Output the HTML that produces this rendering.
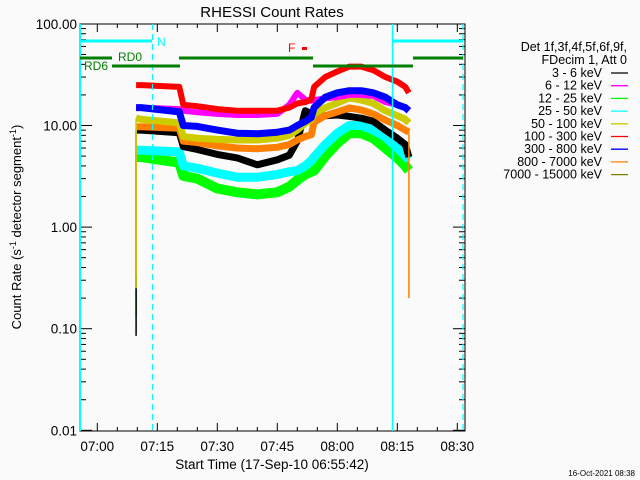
<!DOCTYPE html>
<html><head><meta charset="utf-8"><style>
html,body{margin:0;padding:0;background:#fafafa;}
svg{display:block;font-family:"Liberation Sans",sans-serif;}
</style></head><body>
<svg id="chart" width="640" height="480" viewBox="0 0 640 480">
<rect x="0" y="0" width="640" height="480" fill="#fafafa"/>
<text x="272" y="17" font-size="15" text-anchor="middle">RHESSI Count Rates</text>
<text transform="translate(21,227) rotate(-90)" font-size="13" text-anchor="middle">Count Rate (s<tspan baseline-shift="super" font-size="9">-1</tspan> detector segment<tspan baseline-shift="super" font-size="9">-1</tspan>)</text>
<text x="272" y="469" font-size="13.5" text-anchor="middle">Start Time (17-Sep-10 06:55:42)</text>
<text x="635" y="476" font-size="8" text-anchor="end">16-Oct-2021 08:38</text>
<g id="axes"></g>
<g id="series"></g>
<g id="overlay"></g>
<g id="legend"></g>
</svg>
<script>
// ---- data ----
const times = [9.7, 11, 20.5, 21.5, 25, 30, 35, 40, 45, 48, 50, 52, 53.5, 54.2, 57, 60, 63, 66, 69, 72, 75, 77, 77.9];
const red =     [25,25,24,16,15.5,14.5,14,14,14,15,16.5,17,18,24,30,34,38,38,35,30,27,24,21];
const blue =    [15,15,13.6,10,9.8,9,8.4,8.3,8.6,9,10,11,12,15,19,21,22,22,21,19,16,15,14];
const magenta = [15,15,14.5,14,13.5,13,12.7,12.7,13,16,21,18,17.5,17.8,18.5,19,20,20,19.5,17,16,15,14];
const yellow =  [11.8,11.5,10.6,7.8,7.5,7.3,7.2,7.2,7.5,8,9,10.5,11.5,13,15,16.6,18.7,17.8,16.5,14,12.5,11.5,10.6];
const orange =  [9.7,9.7,9.4,7,6.8,6.3,6,5.9,6.1,6.5,7.2,7.8,8.1,10.8,12.5,13.6,14.9,14.2,13,11.3,10,9,8.6];
const black =   [9,9,8.5,6.2,5.8,5.2,4.8,4.1,4.6,5.1,7,14,13,12,12.5,12.7,12.3,11.8,11,9,7.5,6.5,4.9];
const cyan =    [5.7,5.7,5.5,4,3.8,3.4,3.1,3.1,3.3,3.5,3.6,4,4.5,4.9,6.5,8.4,10,10,9,7.7,6,5,4.6];
const green =   [4.9,4.9,4.3,3.2,3,2.4,2.2,2.1,2.2,2.5,2.9,3.3,3.5,3.6,5,6.7,8.4,8.4,7.5,6,4.8,4,3.6];
const startLow = {black:0.085, orange:0.32, yellow:0.25, green:0.13, cyan:0.2};
const endLow = {orange:0.2};
const yTickVals = [100, 10, 1, 0.1, 0.01];
const yTickLabels = ["100.00","10.00","1.00","0.10","0.01"];
const xTickMins = [0, 15, 30, 45, 60, 75, 90];
const xTickLabels = ["07:00","07:15","07:30","07:45","08:00","08:15","08:30"];
const legendLabels = ["3 - 6 keV","6 - 12 keV","12 - 25 keV","25 - 50 keV","50 - 100 keV","100 - 300 keV","300 - 800 keV","800 - 7000 keV","7000 - 15000 keV"];
const legendColors = ["#000000","#ff00ff","#00ff00","#00ffff","#cccc00","#ff0000","#0000ff","#ff8000","#808000"];

// ---- scales ----
const X0=80, X1=465, Y0=24, Y1=431;
function xs(m){return 97.3 + m*4;}
function ys(v){return 125.5 - Math.log10(v/10)*101.6;}
const NS="http://www.w3.org/2000/svg";
function mk(tag, attrs, parent){const e=document.createElementNS(NS,tag);for(const k in attrs)e.setAttribute(k,attrs[k]);parent.appendChild(e);return e;}
const axes=document.getElementById('axes'), ser=document.getElementById('series'), ov=document.getElementById('overlay'), lg=document.getElementById('legend');

const fr=mk('rect',{x:X0,y:Y0,width:X1-X0,height:Y1-Y0,fill:'none',stroke:'#000','stroke-width':1},axes);


for(let d=-2; d<2; d++){
  for(let k=1;k<10;k++){
    const v=k*Math.pow(10,d); const y=ys(v); const len=(k==1)?12:6;
    const t1=mk('line',{x1:X0,y1:y,x2:X0+len,y2:y,stroke:'#000'},axes);
    
    
    const t2=mk('line',{x1:X1,y1:y,x2:X1-len,y2:y,stroke:'#000'},axes);
    
    
  }
}
yTickVals.forEach((v,i)=>{
  const t=mk('text',{x:77,y:ys(v)+5,'font-size':13.5,'text-anchor':'end'},axes); t.textContent=yTickLabels[i];
  
  
});
for(let m=-5;m<=95;m+=5){
  const x=xs(m); if(x<X0||x>X1) continue; const len=(m%15==0)?8:4;
  const a=mk('line',{x1:x,y1:Y1,x2:x,y2:Y1-len,stroke:'#000'},axes);
  
  
  const b=mk('line',{x1:x,y1:Y0,x2:x,y2:Y0+len,stroke:'#000'},axes);
  
  
}
xTickMins.forEach((m,i)=>{
  const t=mk('text',{x:xs(m),y:451,'font-size':13.5,'text-anchor':'middle'},axes); t.textContent=xTickLabels[i];
  
  
});

const seriesList=[['green',green,'#00ff00',10],['cyan',cyan,'#00ffff',9],['black',black,'#000000',7],['orange',orange,'#ff8000',7],['yellow',yellow,'#cccc00',7],['magenta',magenta,'#ff00ff',6],['blue',blue,'#0000ff',7],['red',red,'#ff0000',6]];
seriesList.forEach(([nm,vals,col,w])=>{
  const pts=times.map((t,i)=>xs(t).toFixed(1)+','+ys(vals[i]).toFixed(1));
  const p=mk('polyline',{points:pts.join(' '),fill:'none',stroke:col,'stroke-width':w,'stroke-linejoin':'round'},ser);
  
  
  if(startLow[nm]!==undefined){
    const l=mk('line',{x1:xs(times[0]),y1:ys(startLow[nm]),x2:xs(times[0]),y2:ys(vals[0]),stroke:col,'stroke-width':1.5},ser);
    
    
  }
  if(endLow[nm]!==undefined){
    const n=times.length-1;
    const l=mk('line',{x1:xs(times[n]),y1:ys(endLow[nm]),x2:xs(times[n]),y2:ys(vals[n]),stroke:col,'stroke-width':1.5},ser);
    
    
  }
});

function line(a,name){const l=mk('line',a,ov);return l;}
line({x1:80,y1:Y0,x2:80,y2:Y1,stroke:'#00ffff','stroke-width':2},'saa-start-line');
line({x1:392.5,y1:Y0,x2:392.5,y2:Y1,stroke:'#00ffff','stroke-width':1.5},'night-end-line');
line({x1:152.5,y1:Y0,x2:152.5,y2:Y1,stroke:'#00ffff','stroke-width':1.2,'stroke-dasharray':'6,4'},'night-start-line');
line({x1:463,y1:Y0,x2:463,y2:Y1,stroke:'#00ffff','stroke-width':1.2,'stroke-dasharray':'6,4'},'night-dashed-line-2');
line({x1:80,y1:41,x2:152,y2:41,stroke:'#00ffff','stroke-width':3},'night-bar-1');
line({x1:393,y1:41,x2:463,y2:41,stroke:'#00ffff','stroke-width':3},'night-bar-2');
const gb=[[80,112,58],[112,180,66],[179,313,58],[313,413,66],[413,463,58]];
gb.forEach((g,i)=>line({x1:g[0],y1:g[2],x2:g[1],y2:g[2],stroke:'#007f00','stroke-width':3},'decimation-bar-'+i));
function txt(x,y,s,c,name,size){const t=mk('text',{x:x,y:y,'font-size':size||12,fill:c},ov);t.textContent=s;}
txt(157,46,'N','#00ffff','night-label');
txt(118,61,'RD0','#007f00','rd0-label');
txt(84,70,'RD6','#007f00','rd6-label');
txt(288,52,'F','#ff0000','flare-label');
const fr2=mk('rect',{x:302,y:47,width:5,height:3,fill:'#ff0000'},ov);



function ltxt(y,s,name){const t=mk('text',{x:627,y:y,'font-size':12.5,'text-anchor':'end'},lg);t.textContent=s;}
ltxt(51,'Det 1f,3f,4f,5f,6f,9f,','legend-detectors');
ltxt(64,'FDecim 1, Att 0','legend-decim');
legendLabels.forEach((s,i)=>{
  const y=77+i*12.7;
  const t=mk('text',{x:602,y:y,'font-size':12.5,'text-anchor':'end'},lg);t.textContent=s;
  
  
  const l=mk('line',{x1:611,y1:y-4,x2:628,y2:y-4,stroke:legendColors[i],'stroke-width':1.3},lg);
  
  
});
</script>
</body></html>
